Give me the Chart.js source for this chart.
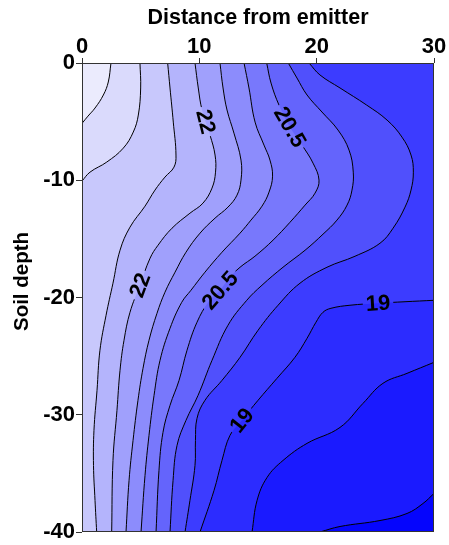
<!DOCTYPE html>
<html>
<head>
<meta charset="utf-8">
<script src="https://cdn.jsdelivr.net/npm/chart.js@4.4.1/dist/chart.umd.min.js"></script>
<style>
  html, body { margin: 0; padding: 0; background: #fff; }
  #wrap { width: 449px; height: 545px; }
</style>
</head>
<body>
<div id="wrap"><canvas id="c" width="449" height="545"></canvas></div>
<script>
// Soil temperature contours around a drip emitter: distance (x) vs soil depth (y).

const xTicks = [0, 10, 20, 30];
const yTicks = [0, -10, -20, -30, -40];

// Contour levels and the fill colour of each band (lowest band first).
const levels = [18, 18.5, 19, 19.5, 20, 20.5, 21, 21.5, 22, 22.5, 23, 23.5];
const bandColors = ['#0505fd', '#1a1aff', '#2c2cff', '#3c3cff', '#5050fc', '#6464fc',
                    '#7878fc', '#8c8cfc', '#a0a0fc', '#b4b4fc', '#c8c8fc', '#dadafc', '#ebebfd'];

// Contour lines as [distance, depth] points, each running with warmer soil on its right-hand side.
const c18   = [[30,-36.71],[29.06,-37.57],[27.70,-38.42],[25.40,-39.02],[21.99,-39.53],[20.28,-40]];
const c18_5 = [[30,-25.53],[27.70,-26.47],[25.65,-27.32],[23.95,-29.03],[21.99,-31.08],[19.18,-32.44],
               [17.13,-33.9],[15.77,-35.35],[14.92,-37.31],[14.49,-40]];
const c19   = [[30,-20.24],[27.53,-20.36],[25.23,-20.49],[22.84,-20.66],[21.22,-20.92],[20.54,-21.26],
               [19.94,-22.11],[19.18,-23.48],[18.15,-25.1],[16.62,-26.89],[15.0,-28.77],[13.61,-30.48],
               [12.61,-31.76],[11.93,-33.9],[11.25,-36.46],[10.06,-40]];
const c19_5 = [[19.35,0],[20.28,-1.02],[21.99,-2.13],[24.26,-3.59],[26.0,-4.87],[27.27,-6.32],[28.04,-7.85],
               [28.24,-9.31],[28.04,-10.84],[27.53,-12.29],[26.51,-14.09],[25.40,-15.37],[23.27,-16.48],
               [20.88,-17.42],[18.58,-18.78],[16.71,-20.66],[15.0,-22.8],[13.47,-25.1],[11.93,-27.07],
               [10.48,-28.77],[9.80,-30.31],[9.67,-32.19],[9.63,-34.32],[9.20,-37.31],[8.78,-40]];
const c20   = [[17.58,0],[18.32,-1.28],[19.18,-2.73],[20.45,-4.18],[21.82,-5.72],[22.76,-7.43],[23.12,-9.31],
               [23.01,-10.84],[22.59,-12.12],[21.73,-13.4],[20.54,-14.6],[19.01,-15.97],[17.13,-17.42],
               [15.34,-18.95],[14.04,-20.24],[12.44,-22.37],[11.08,-25.36],[9.89,-28.35],[8.86,-30.48],
               [8.10,-32.61],[7.76,-35.6],[7.50,-40]];
const c20_5 = [[15.74,0],[16.11,-1.71],[16.79,-3.59],[17.73,-5.46],[18.75,-7.0],[19.69,-8.54],[20.20,-9.99],
               [19.86,-11.1],[19.01,-12.12],[17.73,-13.58],[16.28,-15.11],[14.74,-16.48],[13.47,-17.42],
               [12.53,-18.36],[11.76,-19.38],[10.82,-20.32],[9.80,-22.11],[8.95,-24.5],[8.27,-27.07],
               [7.50,-29.2],[6.90,-31.51],[6.56,-34.75],[6.31,-40]];
const c21   = [[13.81,0],[14.23,-2.13],[14.75,-5.04],[15.51,-7.0],[16.02,-8.28],[16.24,-9.65],[15.94,-11.01],
               [15.34,-12.21],[14.40,-13.4],[13.47,-14.51],[11.93,-16.14],[10.48,-17.84],[9.29,-19.38],
               [8.50,-20.41],[7.50,-22.63],[6.65,-25.36],[6.14,-28.35],[5.71,-31.76],[5.37,-35.18],[5.03,-40]];
const c21_5 = [[11.76,0],[12.02,-2.13],[12.36,-4.01],[12.95,-5.98],[13.55,-8.28],[13.55,-9.99],[13.21,-11.27],
               [12.44,-12.29],[11.34,-13.23],[10.06,-14.51],[8.86,-16.14],[7.93,-17.84],[7.07,-19.55],
               [6.39,-21.35],[5.71,-23.65],[5.20,-26.04],[4.77,-28.77],[4.35,-32.19],[4.01,-35.6],[3.75,-40]];
const c22   = [[9.63,0],[9.91,-2.13],[10.23,-4.01],[10.91,-6.15],[11.34,-7.85],[11.38,-9.31],[11.08,-10.67],
               [10.31,-11.95],[9.20,-12.81],[7.67,-14.09],[6.48,-15.54],[5.80,-16.65],[4.94,-18.95],
               [4.09,-21.26],[3.58,-23.65],[3.24,-26.21],[2.98,-29.63],[2.64,-33.9],[2.53,-40]];
const c22_5 = [[7.30,0],[7.50,-2.13],[7.78,-5.04],[8.01,-7.85],[7.84,-8.88],[7.07,-9.73],[6.22,-10.84],
               [5.37,-12.21],[4.09,-14.0],[3.24,-15.97],[2.64,-18.78],[2.05,-21.52],[1.53,-24.5],
               [1.28,-27.92],[1.02,-31.33],[0.98,-34.32],[1.11,-37.31],[1.25,-40]];
const c23   = [[4.94,0],[5.0,-2.13],[4.80,-4.44],[4.37,-5.89],[3.52,-7.26],[2.11,-8.45],[0.68,-9.31],[0,-10.07]];
const c23_5 = [[2.47,0],[2.24,-1.62],[1.82,-2.73],[1.11,-3.84],[0.51,-4.53],[0,-5.15]];

const contourLines = [c18, c18_5, c19, c19_5, c20, c20_5, c21, c21_5, c22, c22_5, c23, c23_5];

// In-line contour labels: level and where it sits on its line.
const labelLevels = [22, 20.5, 22, 20.5, 19, 19];
const labelX = [10.55, 17.73, 4.94, 11.76, 13.61, 25.23];
const labelY = [-5.0, -5.46, -18.95, -19.38, -30.48, -20.49];

const X_MIN = 0, X_MAX = 30, Y_MIN = -40, Y_MAX = 0;
const W = X_MAX - X_MIN, H = Y_MAX - Y_MIN, PER = 2 * (W + H);
const MARGIN = 6;
const FONT = "'Liberation Sans', Arial, Helvetica, sans-serif";
const LABEL_FONT = 'bold 22px ' + FONT;
const Y_TITLE = 'Soil depth';

// Position along the plot border, measured clockwise on screen from the top-left corner.
function edgePos(p) {
  const e = 1e-6;
  if (Math.abs(p[1] - Y_MAX) < e) return p[0] - X_MIN;
  if (Math.abs(p[0] - X_MAX) < e) return W + (Y_MAX - p[1]);
  if (Math.abs(p[1] - Y_MIN) < e) return W + H + (X_MAX - p[0]);
  return 2 * W + H + (p[1] - Y_MIN);
}
function outwardNormal(p) {
  const e = 1e-6;
  if (Math.abs(p[1] - Y_MAX) < e) return [0, 1];
  if (Math.abs(p[0] - X_MAX) < e) return [1, 0];
  if (Math.abs(p[1] - Y_MIN) < e) return [0, -1];
  return [-1, 0];
}
// Continue a line a little past the border so its curve leaves the plot cleanly.
function extend(p, q) {
  const n = outwardNormal(p);
  let dx = p[0] - q[0], dy = p[1] - q[1];
  const len = Math.hypot(dx, dy);
  dx /= len; dy /= len;
  const dot = dx * n[0] + dy * n[1];
  const L = Math.min(8, Math.max(1.5, 1.2 / Math.max(dot, 0.15)));
  return [p[0] + dx * L, p[1] + dy * L];
}
const outerCorners = [
  { s: 0,         p: [X_MIN - MARGIN, Y_MAX + MARGIN] },
  { s: W,         p: [X_MAX + MARGIN, Y_MAX + MARGIN] },
  { s: W + H,     p: [X_MAX + MARGIN, Y_MIN - MARGIN] },
  { s: 2 * W + H, p: [X_MIN - MARGIN, Y_MIN - MARGIN] }
];
const toXY = pts => pts.map(([x, y]) => ({ x, y }));

const datasets = [];

// Coldest band underneath everything.
datasets.push({
  data: toXY([[X_MIN - MARGIN, Y_MAX + MARGIN], [X_MAX + MARGIN, Y_MAX + MARGIN],
              [X_MAX + MARGIN, Y_MIN - MARGIN], [X_MIN - MARGIN, Y_MIN - MARGIN]]),
  showLine: true, fill: 'shape', backgroundColor: bandColors[0],
  borderWidth: 0, borderColor: 'transparent', tension: 0, pointRadius: 0, order: 1000
});

contourLines.forEach((pts, i) => {
  const first = pts[0], last = pts[pts.length - 1];
  const eS = extend(first, pts[1]);
  const eE = extend(last, pts[pts.length - 2]);
  const sS = edgePos(first), sE = edgePos(last);
  const span = (sS - sE + PER) % PER;
  const corners = outerCorners
    .map(c => ({ d: (c.s - sE + PER) % PER, p: c.p }))
    .filter(c => c.d > 0 && c.d < span)
    .sort((a, b) => a.d - b.d)
    .map(c => c.p);

  // Region warmer than this level.
  datasets.push({
    data: toXY([eS, ...pts, eE, ...corners]),
    showLine: true, fill: 'shape', backgroundColor: bandColors[i + 1],
    borderWidth: 0, borderColor: 'transparent', tension: 0.4, pointRadius: 0,
    order: 100 - i
  });
  // The contour line itself.
  datasets.push({
    data: toXY([eS, ...pts, eE]),
    showLine: true, fill: false, borderColor: '#000', borderWidth: 1,
    tension: 0.4, pointRadius: 0, order: 0,
    isContour: true, level: levels[i]
  });
});

function labelGeometry(chart) {
  const xs = chart.scales.x, ys = chart.scales.y;
  const ctx = chart.ctx;
  ctx.save();
  ctx.font = LABEL_FONT;
  const out = labelLevels.map((lev, k) => {
    const pts = contourLines[levels.indexOf(lev)];
    let best = 0, bd = Infinity;
    pts.forEach((p, j) => {
      const d = Math.hypot(p[0] - labelX[k], p[1] - labelY[k]);
      if (d < bd) { bd = d; best = j; }
    });
    const a = pts[Math.max(0, best - 1)], b = pts[Math.min(pts.length - 1, best + 1)];
    const dx = xs.getPixelForValue(b[0]) - xs.getPixelForValue(a[0]);
    const dy = ys.getPixelForValue(b[1]) - ys.getPixelForValue(a[1]);
    let ang = Math.atan2(dy, dx);
    if (ang > Math.PI / 2) ang -= Math.PI;
    if (ang <= -Math.PI / 2) ang += Math.PI;
    const text = String(lev);
    return {
      text, ang,
      px: xs.getPixelForValue(labelX[k]),
      py: ys.getPixelForValue(labelY[k]),
      w: ctx.measureText(text).width + 6,
      h: 14
    };
  });
  ctx.restore();
  return out;
}

const contourLabelPlugin = {
  id: 'contourLabels',
  beforeDatasetDraw(chart, args) {
    const ds = chart.data.datasets[args.index];
    if (!ds.isContour) return;
    const ctx = chart.ctx;
    ctx.save();
    ctx.beginPath();
    ctx.rect(0, 0, chart.width, chart.height);
    for (const g of labelGeometry(chart)) {
      const c = Math.cos(g.ang), s = Math.sin(g.ang);
      const hw = g.w / 2, hh = g.h / 2;
      const corners = [[-hw, -hh], [hw, -hh], [hw, hh], [-hw, hh]]
        .map(([u, v]) => [g.px + u * c - v * s, g.py + u * s + v * c]);
      ctx.moveTo(corners[0][0], corners[0][1]);
      for (let i = 1; i < 4; i++) ctx.lineTo(corners[i][0], corners[i][1]);
      ctx.closePath();
    }
    ctx.clip('evenodd');
  },
  afterDatasetDraw(chart, args) {
    if (chart.data.datasets[args.index].isContour) chart.ctx.restore();
  },
  afterDatasetsDraw(chart) {
    const ctx = chart.ctx;
    const a = chart.chartArea;
    // Plot frame
    ctx.save();
    ctx.strokeStyle = '#333';
    ctx.lineWidth = 1;
    ctx.strokeRect(Math.round(a.left) + 0.5, Math.round(a.top) + 0.5,
                   Math.round(a.right) - Math.round(a.left) - 1,
                   Math.round(a.bottom) - Math.round(a.top) - 1);
    ctx.restore();
    // Level labels
    ctx.save();
    ctx.font = LABEL_FONT;
    ctx.fillStyle = '#000';
    ctx.textAlign = 'center';
    ctx.textBaseline = 'middle';
    for (const g of labelGeometry(chart)) {
      ctx.save();
      ctx.translate(g.px, g.py);
      ctx.rotate(g.ang);
      ctx.fillText(g.text, 0, 1);
      ctx.restore();
    }
    ctx.restore();
  },
  afterDraw(chart) {
    // Depth axis title, set a little above the axis middle
    const ctx = chart.ctx;
    const a = chart.chartArea;
    ctx.save();
    ctx.font = 'bold 20.5px ' + FONT;
    ctx.fillStyle = '#000';
    ctx.textAlign = 'center';
    ctx.textBaseline = 'middle';
    ctx.translate(22, (a.top + a.bottom) / 2 - 16);
    ctx.rotate(-Math.PI / 2);
    ctx.fillText(Y_TITLE, 0, 0);
    ctx.restore();
  }
};

Chart.defaults.font.family = FONT;

new Chart(document.getElementById('c'), {
  type: 'scatter',
  data: { datasets },
  options: {
    responsive: false,
    animation: false,
    devicePixelRatio: 1,
    events: [],
    layout: { padding: { left: 0, top: 0, right: 15, bottom: 13 } },
    plugins: { legend: { display: false }, tooltip: { enabled: false } },
    elements: { point: { radius: 0, hitRadius: 0 } },
    scales: {
      x: {
        type: 'linear', position: 'top', min: X_MIN, max: X_MAX,
        afterBuildTicks: s => { s.ticks = xTicks.map(v => ({ value: v })); },
        afterFit: s => { s.height = 63; },
        ticks: { font: { size: 22, weight: 'bold', lineHeight: 1 }, color: '#000', padding: 0,
                 maxRotation: 0, autoSkip: false },
        grid: { drawOnChartArea: false, drawTicks: true, tickLength: 5, color: '#333' },
        border: { display: false },
        title: { display: true, text: 'Distance from emitter', color: '#000',
                 font: { size: 21.5, weight: 'bold' }, padding: { top: 5, bottom: 0 } }
      },
      y: {
        type: 'linear', position: 'left', min: Y_MIN, max: Y_MAX,
        afterBuildTicks: s => { s.ticks = yTicks.map(v => ({ value: v })); },
        afterFit: s => { s.width = 82; },
        ticks: { font: { size: 22, weight: 'bold', lineHeight: 1 }, color: '#000', padding: 1,
                 autoSkip: false },
        grid: { drawOnChartArea: false, drawTicks: true, tickLength: 6, color: '#333' },
        border: { display: false },
        title: { display: false }
      }
    }
  },
  plugins: [contourLabelPlugin]
});
</script>
</body>
</html>
